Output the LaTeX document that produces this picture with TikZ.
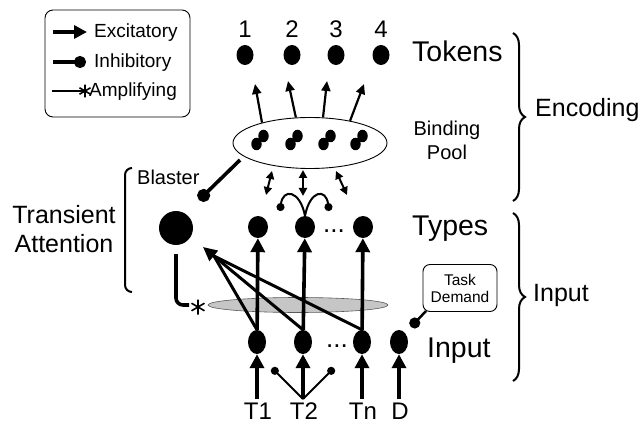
\documentclass[tikz,border=0pt]{standalone}
\usepackage{fontspec}
\setmainfont{Liberation Sans}
\usetikzlibrary{arrows.meta,shapes.geometric,decorations.pathreplacing}
\begin{document}
\begin{tikzpicture}[x=1pt,y=-1pt,
  layer/.style={inner sep=0pt, anchor=base west, font=\fontsize{28.5}{30}\selectfont},
  group/.style={inner sep=0pt, font=\fontsize{25}{29}\selectfont},
  sidelbl/.style={inner sep=0pt, font=\fontsize{20}{24}\selectfont},
  legtxt/.style={inner sep=0pt, anchor=base west, font=\fontsize{19}{20}\selectfont},
  numlbl/.style={inner sep=0pt, anchor=base, font=\fontsize{24}{26}\selectfont},
  ellipsis/.style={inner sep=0pt, font=\fontsize{26}{28}\selectfont},
  tokdot/.style={ellipse, fill=black, inner sep=0pt, minimum width=17, minimum height=20},
  typdot/.style={ellipse, fill=black, inner sep=0pt, minimum width=20, minimum height=22},
  inpdot/.style={ellipse, fill=black, inner sep=0pt, minimum width=18, minimum height=24},
  pairdot/.style={ellipse, fill=black, inner sep=0pt, minimum width=10.5, minimum height=12.5},
  excite/.style={line width=3.6pt, -{Triangle[length=14pt,width=14pt]}},
  thinexcite/.style={line width=2.2pt, -{Triangle[length=10pt,width=9pt]}},
  twoway/.style={line width=2pt, {Triangle[length=8pt,width=8pt]}-{Triangle[length=8pt,width=8pt]}},
  inhibit/.style={line width=3.6pt, -{Circle[length=13pt]}},
  thininhibit/.style={line width=2pt, -{Circle[length=8pt]}},
  bracket/.style={line width=2pt, decorate, decoration={brace, amplitude=12pt}},
  amp/.pic={\draw[line width=1.6pt] (0,-7.5) -- (0,7.5) (-6.5,-3.8) -- (6.5,3.8) (-6.5,3.8) -- (6.5,-3.8);}
]
\useasboundingbox (0,0) rectangle (643,425);

% ---------- legend ----------
\node[draw, line width=0.9pt, rounded corners=8pt, minimum width=145, minimum height=107, inner sep=0pt] (legend) at (117.5,63.5) {};
\coordinate (exA) at (53,32);  \coordinate (exB) at (87,32);
\draw[excite, -{Triangle[length=13pt,width=13pt]}] (exA) -- (exB);
\node[legtxt] (exT) at (94,38) {Excitatory};
\coordinate (inA) at (53,62);  \coordinate (inB) at (86,62);
\draw[inhibit, -{Circle[length=12pt]}] (inA) -- (inB);
\node[legtxt] (inT) at (94,68) {Inhibitory};
\coordinate (amA) at (52,91);  \coordinate (amB) at (83,91);
\draw[line width=1.5pt] (amA) -- (amB);
\pic[scale=0.85] at (85,91) {amp};
\node[legtxt] (amT) at (89,97) {Amplifying};

% ---------- tokens ----------
\foreach \x/\n in {245/1,292/2,336/3,381/4}{
  \node[tokdot] (tok\n) at (\x,55) {};
  \node[numlbl] (num\n) at (\x,38) {\n};
}
\node[layer] (tokT) at (412,62) {Tokens};

% ---------- binding pool ----------
\node[draw, ellipse, line width=0.9pt, minimum width=154, minimum height=51, inner sep=0pt] (bp) at (310,143) {};
\foreach \x [count=\i] in {260,294,327,359}{
  \node[pairdot] (pu\i) at (\x+3.5,136) {};
  \node[pairdot] (pl\i) at (\x-3.5,144) {};
}
\node[sidelbl, align=center] (bpT) at (447,140) {Binding\\Pool};

\coordinate (th1) at (255,84);
\coordinate (th2) at (288,81);
\coordinate (th3) at (327,81);
\coordinate (th4) at (364,84);
\draw[thinexcite] (bp.157) -- (th1);
\draw[thinexcite] (bp.119) -- (th2);
\draw[thinexcite] (bp.63) -- (th3);
\draw[thinexcite] (bp.29) -- (th4);

% two-way links between pool and types
\coordinate (da1) at (272,171); \coordinate (db1) at (266,195);
\coordinate (da2) at (303,170); \coordinate (db2) at (303,196);
\coordinate (da3) at (336,171); \coordinate (db3) at (347,195);
\draw[twoway] (da1) -- (db1);
\draw[twoway] (da2) -- (db2);
\draw[twoway] (da3) -- (db3);

% ---------- types ----------
\node[typdot] (ty1) at (258,227) {};
\node[typdot] (ty2) at (305,227) {};
\node[typdot] (ty3) at (363,227) {};
\node[ellipsis] (tyD) at (334,231) {...};
\node[layer] (tyT) at (412,235) {Types};

% lateral inhibition among types
\coordinate (liL) at (280,211);
\coordinate (liR) at (329,211);
\draw[thininhibit] (ty2.north) .. controls (300,190) and (283,188) .. (liL);
\draw[thininhibit] (ty2.north) .. controls (310,190) and (326,188) .. (liR);

% ---------- blaster ----------
\node[circle, fill=black, inner sep=0pt, minimum size=34] (bl) at (176,228) {};
\node[sidelbl, anchor=base west] (blT) at (137,185) {Blaster};
\coordinate (bpI) at (240,160);
\coordinate (blI) at (199,200);
\draw[inhibit] (bpI) -- (blI);

% ---------- transient attention ----------
\node[group, align=center] (taT) at (64,229) {Transient\\Attention};
\coordinate (brT) at (132,168);
\coordinate (brB) at (132,292);
\draw[line width=2pt, rounded corners=7pt] (brT) -- (125,168) -- (125,292) -- (brB);

% attentional gate and amplifying link
\node[ellipse, fill=gray!45, draw=gray!70!black, line width=0.6pt, minimum width=180, minimum height=15, inner sep=0pt] (gate) at (298,305) {};
\coordinate (amS) at (176,254);
\coordinate (amE) at (189,305);
\draw[line width=3.6pt, rounded corners=7pt] (amS) -- (176,305) -- (amE);
\pic at (198,307) {amp};

% ---------- input ----------
\node[inpdot] (in1) at (257,342) {};
\node[inpdot] (in2) at (303,342) {};
\node[inpdot] (in3) at (362,342) {};
\node[inpdot] (inD) at (399,342) {};
\node[ellipsis] (inDots) at (337,346) {...};
\node[layer] (inT) at (427,357) {Input};

\draw[excite] (in1) -- (ty1);
\draw[excite] (in2) -- (ty2);
\draw[excite] (in3) -- (ty3);

% input to blaster
\coordinate (blH) at (203,247);
\coordinate (blJ) at (214,256);
\draw[line width=3pt] (in1.north) -- (blJ);
\draw[line width=3pt] (in3.north) -- (blJ);
\draw[line width=3pt, -{Triangle[length=14pt,width=13pt]}] (in2.north) -- (blH);

% stimuli
\foreach \x/\n/\t in {257/1/T1,303/2/T2,362/3/Tn,399/D/D}{
  \coordinate (st\n) at (\x,399);
  \node[numlbl] (stT\n) at (\x+1,419) {\t};
}
\draw[excite] (st1) -- (in1);
\draw[excite] (st2) -- (in2);
\draw[excite] (st3) -- (in3);
\draw[excite] (stD) -- (inD);

% inhibition from T2 to its neighbours
\coordinate (sp2) at (303,399);
\coordinate (nbL) at (272,368);
\coordinate (nbR) at (334,368);
\draw[thininhibit] (sp2) -- (nbL);
\draw[thininhibit] (sp2) -- (nbR);

% task demand
\node[draw, line width=0.9pt, rounded corners=7pt, minimum width=74, minimum height=47, inner sep=0pt, align=center, font=\fontsize{15.5}{17}\selectfont] (task) at (460,288) {Task\\Demand};
\coordinate (tdS) at (426,311);
\coordinate (tdE) at (411,327);
\draw[line width=2.5pt, -{Circle[length=11pt]}] (tdS) -- (tdE);

% ---------- groupings ----------
\coordinate (enT) at (513,33);
\coordinate (enB) at (513,201);
\draw[bracket] (enT) -- (enB);
\node[group, anchor=base west] (enL) at (535,117) {Encoding};
\coordinate (ipT) at (513,213);
\coordinate (ipB) at (513,381);
\draw[bracket] (ipT) -- (ipB);
\node[group, anchor=base west] (ipL) at (533,301) {Input};
\end{tikzpicture}
\end{document}
